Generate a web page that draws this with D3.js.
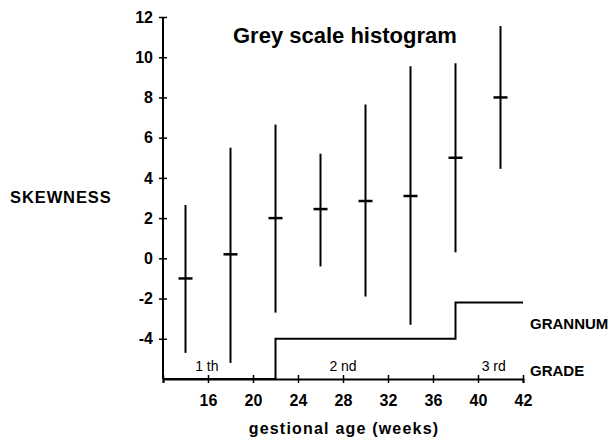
<!DOCTYPE html>
<html>
<head>
<meta charset="utf-8">
<script src="https://cdn.jsdelivr.net/npm/d3@7"></script>
<style>
  body { margin: 0; background: #fff; }
  svg { display: block; font-family: "Liberation Sans", Arial, sans-serif; }
</style>
</head>
<body>
<svg id="chart" width="612" height="444"></svg>
<script>
// gestational age (weeks) for each bar
const weeks = [14, 18, 22, 26, 30, 34, 38, 42];
const means = [-1.0, 0.2, 2.0, 2.45, 2.85, 3.1, 5.0, 8.0];
const lows  = [-4.7, -5.2, -2.7, -0.4, -1.9, -3.3, 0.3, 4.45];
const highs = [2.65, 5.5, 6.65, 5.2, 7.65, 9.55, 9.7, 11.55];

// grannum grade step line
const gradeWeeks  = [12, 22, 38, 44];
const gradeLevels = [-6, -4, -2.2, -2.2];
const gradeLabels = ["1 th", "2 nd", "3 rd"];
const gradeLabelWeeks = [15.9, 28.0, 41.4];

const xTickValues = [12, 16, 20, 24, 28, 32, 36, 40, 44];
const xTickLabels = ["", "16", "20", "24", "28", "32", "36", "40", "42"];
const yTickValues = [-4, -2, 0, 2, 4, 6, 8, 10, 12];

const svg = d3.select("#chart");
const x = d3.scaleLinear().domain([12, 44]).range([163, 523]);
const y = d3.scaleLinear().domain([-6, 12]).range([379, 17]);

// axes
const xAxis = d3.axisBottom(x)
    .tickValues(xTickValues)
    .tickFormat((d, i) => xTickLabels[i])
    .tickSize(4)
    .tickPadding(12);
const gx = svg.append("g").attr("transform", `translate(0,${y(-6)})`).call(xAxis);
gx.select(".domain").attr("stroke-width", 2);
gx.selectAll(".tick line").attr("y1", -4).attr("stroke-width", 1.5);
gx.selectAll(".tick text")
    .attr("font-size", 16).attr("font-weight", "bold").attr("fill", "#000");

const yAxis = d3.axisLeft(y)
    .tickValues(yTickValues)
    .tickFormat(d => String(d))
    .tickSize(4)
    .tickPadding(6);
const gy = svg.append("g").attr("transform", `translate(${x(12)},0)`).call(yAxis);
gy.select(".domain").attr("stroke-width", 2).attr("d", `M0,${y(12)}V${y(-6)}`);
gy.selectAll(".tick line").attr("x2", -4).attr("x1", 4).attr("stroke-width", 1.5);
gy.selectAll(".tick text")
    .attr("font-size", 16).attr("font-weight", "bold").attr("fill", "#000");

// error bars
const bars = svg.append("g");
weeks.forEach((w, i) => {
    bars.append("line")
        .attr("x1", x(w)).attr("x2", x(w))
        .attr("y1", y(lows[i])).attr("y2", y(highs[i]))
        .attr("stroke", "#000").attr("stroke-width", 2);
    bars.append("line")
        .attr("x1", x(w) - 7).attr("x2", x(w) + 7)
        .attr("y1", y(means[i])).attr("y2", y(means[i]))
        .attr("stroke", "#000").attr("stroke-width", 2.5);
});

// grannum step
const step = d3.line()
    .x((d, i) => x(gradeWeeks[i]))
    .y((d, i) => y(gradeLevels[i]))
    .curve(d3.curveStepAfter);
svg.append("path")
    .attr("d", step(gradeWeeks))
    .attr("fill", "none").attr("stroke", "#000").attr("stroke-width", 2);

svg.selectAll("text.grade")
    .data(gradeLabels)
    .join("text")
    .attr("class", "grade")
    .attr("x", (d, i) => x(gradeLabelWeeks[i]))
    .attr("y", 371)
    .attr("text-anchor", "middle")
    .attr("font-size", 14)
    .text(d => d);

// labels
svg.append("text").attr("x", 233).attr("y", 43)
    .attr("font-size", 22).attr("font-weight", "bold").text("Grey scale histogram");
svg.append("text").attr("x", 10).attr("y", 203)
    .attr("font-size", 16.5).attr("font-weight", "bold").attr("letter-spacing", 0.9).text("SKEWNESS");
svg.append("text").attr("x", 344).attr("y", 434).attr("text-anchor", "middle")
    .attr("font-size", 16).attr("font-weight", "bold").attr("letter-spacing", 1.2).text("gestional age (weeks)");
svg.append("text").attr("x", 530).attr("y", 329)
    .attr("font-size", 15).attr("font-weight", "bold").text("GRANNUM");
svg.append("text").attr("x", 530).attr("y", 376)
    .attr("font-size", 15).attr("font-weight", "bold").text("GRADE");
</script>
</body>
</html>
